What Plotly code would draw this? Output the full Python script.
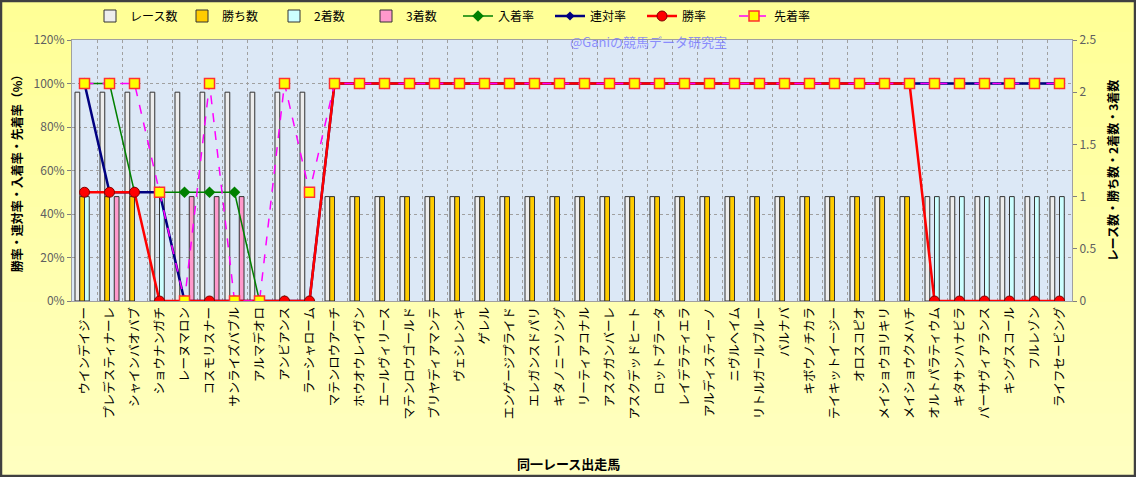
import plotly.graph_objects as go

horses = ["ウインデイジー", "プレデスティナーレ", "シャインバオバブ", "ショウナンガチ", "レーヌマロン",
          "コスモリスナー", "サンライズバブル", "アルマデオロ", "アンビアンス", "ラーシャローム",
          "マテンロウアーチ", "ホウオウレイヴン", "エールヴィリース", "マテンロウゴールド", "ブリヤディアマンテ",
          "ヴェシレンキ", "ゲレル", "エンゲージプライド", "エレガンスドパリ", "キタノニーソング",
          "リーティアコナル", "アスクガンバーレ", "アスクデッドヒート", "ロットプラータ", "レイデラティエラ",
          "アルディスティーノ", "ニヴルヘイム", "リトルガールブルー", "バルナバ", "キボウノチカラ",
          "テイキットイージー", "オロスコピオ", "メイショウヨリキリ", "メイショウクメハチ", "オルトパラティウム",
          "キタサンハナビラ", "パーサヴィアランス", "キングスコール", "フルレゾン", "ライフセービング"]

races   = [2, 2, 2, 2, 2, 2, 2, 2, 2, 2, 1, 1, 1, 1, 1, 1, 1, 1, 1, 1,
           1, 1, 1, 1, 1, 1, 1, 1, 1, 1, 1, 1, 1, 1, 1, 1, 1, 1, 1, 1]
wins    = [1, 1, 1, 0, 0, 0, 0, 0, 0, 0, 1, 1, 1, 1, 1, 1, 1, 1, 1, 1,
           1, 1, 1, 1, 1, 1, 1, 1, 1, 1, 1, 1, 1, 1, 0, 0, 0, 0, 0, 0]
seconds = [1, 0, 0, 1, 0, 0, 0, 0, 0, 0, 0, 0, 0, 0, 0, 0, 0, 0, 0, 0,
           0, 0, 0, 0, 0, 0, 0, 0, 0, 0, 0, 0, 0, 0, 1, 1, 1, 1, 1, 1]
thirds  = [0, 1, 0, 0, 1, 1, 1, 0, 0, 0, 0, 0, 0, 0, 0, 0, 0, 0, 0, 0,
           0, 0, 0, 0, 0, 0, 0, 0, 0, 0, 0, 0, 0, 0, 0, 0, 0, 0, 0, 0]

place_rate = [100, 100, 50, 50, 50, 50, 50, 0, 0, 0, 100, 100, 100, 100, 100, 100, 100, 100, 100, 100,
              100, 100, 100, 100, 100, 100, 100, 100, 100, 100, 100, 100, 100, 100, 100, 100, 100, 100, 100, 100]
rentai_rate = [100, 50, 50, 50, 0, 0, 0, 0, 0, 0, 100, 100, 100, 100, 100, 100, 100, 100, 100, 100,
               100, 100, 100, 100, 100, 100, 100, 100, 100, 100, 100, 100, 100, 100, 100, 100, 100, 100, 100, 100]
win_rate = [50, 50, 50, 0, 0, 0, 0, 0, 0, 0, 100, 100, 100, 100, 100, 100, 100, 100, 100, 100,
            100, 100, 100, 100, 100, 100, 100, 100, 100, 100, 100, 100, 100, 100, 0, 0, 0, 0, 0, 0]
ahead_rate = [100, 100, 100, 50, 0, 100, 0, 0, 100, 50, 100, 100, 100, 100, 100, 100, 100, 100, 100, 100,
              100, 100, 100, 100, 100, 100, 100, 100, 100, 100, 100, 100, 100, 100, 100, 100, 100, 100, 100, 100]

W, H = 1136, 477
ML, MR, MT, MB = 72, 64, 40, 176
PW, PH = W - ML - MR, H - MT - MB
FONT = "Noto Sans CJK JP"


def px_x(x):
    return (x - ML) / PW


def px_y(y):
    return (H - MB - y) / PH


def nz(v):
    return [a if a else None for a in v]


fig = go.Figure()
bar_line = dict(color="#333333", width=1)
fig.add_bar(x=horses, y=nz(races), name="レース数", marker=dict(color="#EDEDED", line=bar_line), yaxis="y")
fig.add_bar(x=horses, y=nz(wins), name="勝ち数", marker=dict(color="#FFCC00", line=bar_line), yaxis="y")
fig.add_bar(x=horses, y=nz(seconds), name="2着数", marker=dict(color="#CCFFFF", line=bar_line), yaxis="y")
fig.add_bar(x=horses, y=nz(thirds), name="3着数", marker=dict(color="#FF99CC", line=bar_line), yaxis="y")

fig.add_scatter(x=horses, y=[v / 100 for v in place_rate], name="入着率", yaxis="y2", mode="lines+markers",
                line=dict(color="#008000", width=1.5),
                marker=dict(symbol="diamond", size=9, color="#008000"))
fig.add_scatter(x=horses, y=[v / 100 for v in rentai_rate], name="連対率", yaxis="y2", mode="lines+markers",
                line=dict(color="#000080", width=2.5),
                marker=dict(symbol="diamond", size=7, color="#000080"))
fig.add_scatter(x=horses, y=[v / 100 for v in win_rate], name="勝率", yaxis="y2", mode="lines+markers",
                line=dict(color="#FF0000", width=2.5),
                marker=dict(symbol="circle", size=10, color="#FF0000", line=dict(color="#800000", width=1)))
fig.add_scatter(x=horses, y=[v / 100 for v in ahead_rate], name="先着率", yaxis="y2", mode="lines+markers",
                line=dict(color="#FF00FF", width=1.5, dash="dash"),
                marker=dict(symbol="square", size=10, color="#FFFF00", line=dict(color="#FF3030", width=1.5)))

# background gradient bands, only in the margins (outside the plot area)
shapes = []
n = 30
top_c = (255, 255, 150)
bot_c = (255, 255, 192)
PT, PB, PL, PR = MT, H - MB, ML, W - MR
for i in range(n):
    t = i / (n - 1)
    c = "rgb(%d,%d,%d)" % tuple(round(top_c[k] + (bot_c[k] - top_c[k]) * t) for k in range(3))
    y0 = H * i / n
    y1 = H * (i + 1) / n + 0.6
    pieces = []
    if y1 <= PT or y0 >= PB:
        pieces.append((0, W, y0, y1))
    else:
        if y0 < PT:
            pieces.append((0, W, y0, PT))
        if y1 > PB:
            pieces.append((0, W, PB, y1))
        a, b = max(y0, PT), min(y1, PB)
        pieces.append((0, PL, a, b))
        pieces.append((PR, W, a, b))
    for (xa, xb, ya, yb) in pieces:
        shapes.append(dict(type="rect", xref="paper", yref="paper", x0=px_x(xa), x1=px_x(xb),
                           y0=px_y(yb), y1=px_y(ya), fillcolor=c, line=dict(width=0), layer="below"))
shapes.append(dict(type="rect", xref="paper", yref="paper", x0=px_x(1), x1=px_x(W - 1),
                   y0=px_y(H - 1), y1=px_y(1), line=dict(color="#404040", width=2.5),
                   fillcolor="rgba(0,0,0,0)", layer="above"))

fig.update_layout(
    width=W, height=H,
    margin=dict(l=ML, r=MR, t=MT, b=MB, autoexpand=False),
    paper_bgcolor="#FFFFAA",
    plot_bgcolor="#DCE8F6",
    font=dict(family=FONT, size=12, color="#000000"),
    barmode="group", bargap=0.24, bargroupgap=0,
    showlegend=True,
    legend=dict(orientation="h", x=px_x(90), xanchor="left", y=px_y(16), yanchor="middle",
                bgcolor="rgba(0,0,0,0)", font=dict(size=12, family=FONT), itemwidth=30,
                entrywidth=47, traceorder="normal"),
    shapes=shapes,
    xaxis=dict(type="category", range=[-0.5, len(horses) - 0.5], tickangle=-90, tickson="boundaries",
               ticks="", showgrid=True, gridcolor="#A0A0A0", griddash="dot", gridwidth=1,
               showline=True, linecolor="#A0A0A0", mirror=True,
               tickfont=dict(size=12.5, color="#000000", family=FONT)),
    yaxis=dict(side="right", range=[0, 2.5], dtick=0.5, showgrid=False, zeroline=False,
               ticks="outside", ticklen=4, tickcolor="#808080",
               showline=True, linecolor="#A0A0A0",
               tickfont=dict(size=12, color="#606060", family=FONT),
               title=dict(text="<b>レース数・勝ち数・2着数・3着数</b>", font=dict(size=12), standoff=14)),
    yaxis2=dict(side="left", overlaying="y", range=[0, 1.2], dtick=0.2, tickformat=".0%",
                showgrid=True, gridcolor="#A0A0A0", griddash="dot", zeroline=False,
                ticks="outside", ticklen=4, tickcolor="#808080",
                showline=True, linecolor="#A0A0A0",
                tickfont=dict(size=12, color="#606060", family=FONT),
                title=dict(text="<b>勝率・連対率・入着率・先着率（%）</b>", font=dict(size=12), standoff=8)),
    annotations=[
        dict(text="@Ganiの競馬データ研究室", xref="paper", yref="paper", x=px_x(648), y=px_y(42),
             yanchor="middle", showarrow=False,
             font=dict(size=13, color="rgba(110,110,255,0.75)", family=FONT)),
        dict(text="<b>同一レース出走馬</b>", xref="paper", yref="paper", x=px_x(568), y=px_y(463),
             yanchor="middle", showarrow=False, font=dict(size=13, color="#000000", family=FONT)),
    ],
)

fig.write_html("out.html", config={"displayModeBar": False},
               post_script="document.body.style.margin='0px';document.body.style.background='#FFFFAA';")
